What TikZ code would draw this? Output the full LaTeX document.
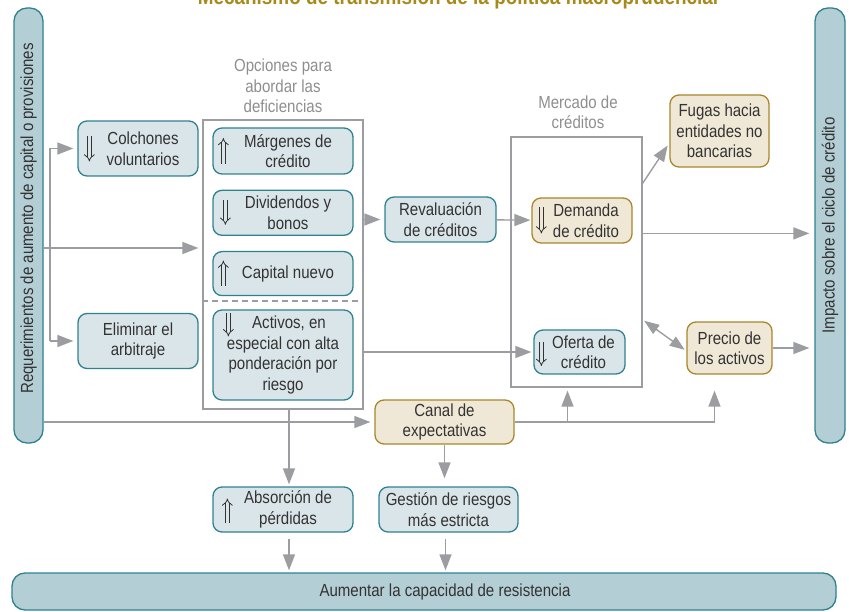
\documentclass[tikz,border=0pt]{standalone}
\usepackage{fontspec}
\setmainfont{Liberation Sans}[FakeStretch=0.86]
\usepackage{graphicx}
\usetikzlibrary{arrows.meta, positioning}

\definecolor{tealline}{HTML}{2E8290}
\definecolor{bluefill}{HTML}{DAE5E9}
\definecolor{barfill}{HTML}{B4CED5}
\definecolor{goldline}{HTML}{A8862A}
\definecolor{goldfill}{HTML}{F0E8D6}
\definecolor{arrowgrey}{HTML}{9C9DA0}
\definecolor{labelgrey}{HTML}{8E8E8E}
\definecolor{textgrey}{HTML}{333333}
\definecolor{titlegold}{HTML}{A88A1C}

\newcommand{\boxfont}{\fontsize{17.5}{20.5}\selectfont}

\begin{document}
\begin{tikzpicture}[
    x=1pt, y=-1pt,
    every node/.style={font=\boxfont, text=textgrey},
    bluebox/.style={draw=tealline, fill=bluefill, rounded corners=9pt, line width=1.3pt, align=center, inner sep=2pt},
    goldbox/.style={bluebox, draw=goldline, fill=goldfill},
    sidebar/.style={draw=tealline, fill=barfill, rounded corners=13pt, line width=1.3pt},
    frame/.style={draw=arrowgrey, line width=1.2pt},
    caption/.style={text=labelgrey, align=center},
    trend/.style={draw=textgrey, double=bluefill, double distance=3pt, line width=0.8pt, -{Implies[length=6pt]}},
    link/.style={draw=arrowgrey, line width=1.4pt},
    flow/.style={link, -{Triangle[length=16pt, width=12pt]}, shorten >=4pt},
    twoway/.style={link, {Triangle[length=15pt, width=11pt]}-{Triangle[length=15pt, width=11pt]}, shorten >=2pt, shorten <=2pt}
]
   \useasboundingbox (0,0) rectangle (849,612);

   % Title (cut by the top edge)
   \node[font=\fontsize{22}{26}\selectfont\bfseries, text=titlegold, anchor=base] (title) at (458,5) {Mecanismo de transmisión de la política macroprudencial};

   % Side bars
   \node[sidebar, minimum width=29pt, minimum height=435pt] (reqbar) at (28.5,225.5) {\rotatebox{90}{\hspace*{14pt}Requerimientos de aumento de capital o provisiones}};
   \node[sidebar, minimum width=30pt, minimum height=435pt] (impacto) at (830,225.5) {\rotatebox{90}{Impacto sobre el ciclo de crédito}};
   \node[sidebar, minimum width=824pt, minimum height=37pt] (resistencia) at (424,591.5) {\hspace*{42pt}Aumentar la capacidad de resistencia};

   % First reactions of the banks
   \node[bluebox, minimum width=120pt, minimum height=55pt] (colchones) at (138,148.5) {\hspace*{10pt}Colchones\\\hspace*{10pt}voluntarios};
   \node[bluebox, minimum width=120pt, minimum height=55pt] (arbitraje) at (138,341) {Eliminar el\\arbitraje};

   % Options to close the gaps
   \node[caption] (opclabel) at (283,86) {Opciones para\\abordar las\\deficiencias};
   \node[frame, minimum width=160pt, minimum height=289pt] (opciones) at (283,264.5) {};
   \node[bluebox, minimum width=140pt, minimum height=46pt] (margenes) at (283,151) {\hspace*{10pt}Márgenes de\\\hspace*{10pt}crédito};
   \node[bluebox, minimum width=140pt, minimum height=45pt, below=15pt of margenes] (dividendos) {\hspace*{10pt}Dividendos y\\\hspace*{10pt}bonos};
   \node[bluebox, minimum width=140pt, minimum height=44pt, below=15pt of dividendos] (capital) {\hspace*{10pt}Capital nuevo};
   \node[bluebox, minimum width=140pt, minimum height=90pt] (activos) at (283,355) {\hspace*{12pt}Activos, en\\especial con alta\\ponderación por\\riesgo};
   \draw[frame, dash pattern=on 6pt off 4pt] (opciones.west |- 0,301) -- (opciones.east |- 0,301);

   % Credit market
   \node[bluebox, minimum width=111pt, minimum height=45pt] (revaluacion) at (440.5,219.5) {Revaluación\\de créditos};
   \node[caption] (mercadolabel) at (578,112) {Mercado de\\créditos};
   \node[frame, minimum width=131pt, minimum height=250pt] (mercado) at (576.5,262) {};
   \node[goldbox, minimum width=100pt, minimum height=45pt] (demanda) at (582,220.5) {\hspace*{8pt}Demanda\\\hspace*{8pt}de crédito};
   \node[bluebox, minimum width=91pt, minimum height=44pt] (oferta) at (579.5,352) {\hspace*{8pt}Oferta de\\\hspace*{8pt}crédito};

   % Side effects
   \node[goldbox, minimum width=99pt, minimum height=72pt] (fugas) at (719.5,131) {Fugas hacia\\entidades no\\bancarias};
   \node[goldbox, minimum width=85pt, minimum height=52pt] (precio) at (729.5,348) {Precio de\\los activos};
   \node[goldbox, minimum width=139pt, minimum height=44pt] (canal) at (444.5,422) {Canal de\\expectativas};

   % Resilience
   \node[bluebox, minimum width=140pt, minimum height=45pt] (absorcion) at (283,509.5) {\hspace*{10pt}Absorción de\\\hspace*{10pt}pérdidas};
   \node[bluebox, minimum width=139pt, minimum height=45pt] (gestion) at (448.5,509.5) {Gestión de riesgos\\más estricta};

   % Up and down marks
   \draw[trend] ([xshift=12pt, yshift=12pt]colchones.west) -- ([xshift=12pt, yshift=-13pt]colchones.west);
   \draw[trend] ([xshift=11pt, yshift=-13pt]margenes.west) -- ([xshift=11pt, yshift=13pt]margenes.west);
   \draw[trend] ([xshift=13pt, yshift=13pt]dividendos.west) -- ([xshift=13pt, yshift=-12pt]dividendos.west);
   \draw[trend] ([xshift=11pt, yshift=-12pt]capital.west) -- ([xshift=11pt, yshift=13pt]capital.west);
   \draw[trend] ([xshift=16pt, yshift=-4pt]activos.north west) -- ([xshift=16pt, yshift=-27pt]activos.north west);
   \draw[trend, double=goldfill] ([xshift=10pt, yshift=13pt]demanda.west) -- ([xshift=10pt, yshift=-13pt]demanda.west);
   \draw[trend] ([xshift=8pt, yshift=10pt]oferta.west) -- ([xshift=8pt, yshift=-14pt]oferta.west);
   \draw[trend] ([xshift=15pt, yshift=-13pt]absorcion.west) -- ([xshift=15pt, yshift=11pt]absorcion.west);

   % Branch points
   \coordinate (split) at (50,248);
   \coordinate (leak) at ([yshift=-47pt]mercado.north east);
   \coordinate (mktout) at ([yshift=-97pt]mercado.north east);
   \coordinate (swing) at ([yshift=68pt]mercado.south east);

   % Plain lines
   \draw[link] (reqbar.east |- split) -- (split);
   \draw[link] (split |- colchones) -- (split |- arbitraje);
   \draw[link] (canal.east) -- ([xshift=-15pt]precio.south |- canal);

   % Arrows into the options
   \draw[flow] (split) -- (opciones.west |- split);
   \draw[flow] (split |- colchones) -- (colchones);
   \draw[flow] (split |- arbitraje) -- (arbitraje);
   \draw[flow] (reqbar.east |- canal) -- (canal);

   % Arrows into the credit market
   \draw[flow] (opciones.east |- revaluacion) -- (revaluacion);
   \draw[flow, shorten >=1pt] (revaluacion) -- (demanda);
   \draw[flow, shorten >=2pt] (opciones.east |- oferta) -- (oferta);
   \draw[flow, shorten >=3pt] ([xshift=-9pt]mercado.south |- canal) -- ([xshift=-9pt]mercado.south);
   \draw[flow, shorten >=3pt] ([xshift=-15pt]precio.south |- canal) -- ([xshift=-15pt]precio.south |- mercado.south);

   % Arrows out of the credit market
   \draw[flow, shorten >=3pt] (leak) -- ([yshift=-12pt]fugas.west);
   \draw[flow, shorten >=5pt] (mktout) -- (impacto.west |- mktout);
   \draw[flow, shorten >=5pt] (precio) -- (impacto.west |- precio);
   \draw[twoway] (swing) -- ([yshift=-3pt]precio.west);

   % Arrows towards resilience
   \draw[flow, shorten >=2pt] ([xshift=6pt]opciones.south) -- ([xshift=6pt]absorcion.north);
   \draw[flow, shorten >=8pt] (canal.south) -- (canal.south |- gestion.north);
   \draw[flow, shorten >=2pt] ([xshift=6pt, yshift=-6pt]absorcion.south) -- ([xshift=6pt]absorcion.south |- resistencia.north);
   \draw[flow, shorten >=2pt] ([xshift=-3pt, yshift=-6pt]gestion.south) -- ([xshift=-3pt]gestion.south |- resistencia.north);
\end{tikzpicture}
\end{document}
